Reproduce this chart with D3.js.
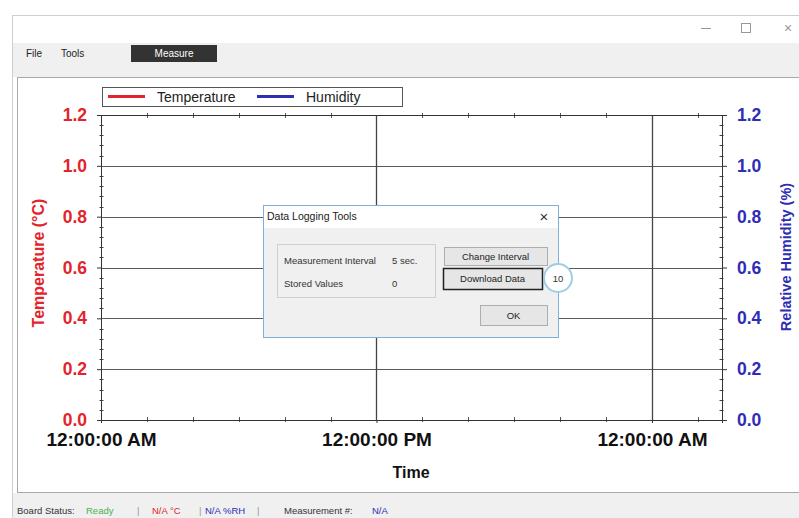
<!DOCTYPE html>
<html>
<head>
<meta charset="utf-8">
<script src="https://cdn.jsdelivr.net/npm/d3@7"></script>
<style>
  body { margin: 0; background: #fff; }
  svg text { font-family: "Liberation Sans", Arial, sans-serif; }
</style>
</head>
<body>
<div id="app"></div>
<script>
// logger window: empty temp / humidity chart with the logging dialog open

var W = 799, H = 518;

// series (nothing logged yet)
var seriesNames = ["Temperature", "Humidity"];
var seriesColors = ["#e3242b", "#2d2db5"];
var tempValues = [];
var humValues = [];

// axes
var yTicks = [0.0, 0.2, 0.4, 0.6, 0.8, 1.0, 1.2];
var yMinorStep = 0.04;
var xHours = [0, 27.05];          // visible time span in hours
var xMajorHours = [0, 12, 24];
var xMinorHours = [2, 4, 6, 8, 10, 14, 16, 18, 20, 22, 26];
var xTickLabels = ["12:00:00 AM", "12:00:00 PM", "12:00:00 AM"];

// ui texts
var menuItems = ["File", "Tools"];
var statusItems = [
  {t: "Board Status:", c: "#333", x: 17},
  {t: "Ready", c: "#4caf50", x: 86},
  {t: "|", c: "#999", x: 137},
  {t: "N/A °C", c: "#e3242b", x: 152},
  {t: "|", c: "#999", x: 199},
  {t: "N/A %RH", c: "#2d2db5", x: 205},
  {t: "|", c: "#999", x: 257},
  {t: "Measurement #:", c: "#333", x: 284},
  {t: "N/A", c: "#2d2db5", x: 372}
];

var margin = {top: 115, right: 77, bottom: 98, left: 101};
var plotW = W - margin.left - margin.right;
var plotH = H - margin.top - margin.bottom;

var t0 = new Date(2000, 0, 1, 0, 0, 0);
function hour(h) { return new Date(t0.getTime() + h * 3600 * 1000); }

var x = d3.scaleTime().domain(xHours.map(hour)).range([0, plotW]);
var y = d3.scaleLinear().domain([0, 1.2]).range([plotH, 0]);

var svg = d3.select("#app").append("svg")
    .attr("width", W)
    .attr("height", H);

// ---- window frame ----
svg.append("rect").attr("x", 0).attr("y", 0).attr("width", W).attr("height", H).attr("fill", "#fff");
svg.append("rect").attr("x", 12.5).attr("y", 15.5).attr("width", 800).attr("height", 520)
    .attr("fill", "#fff").attr("stroke", "#cfcfcf");
svg.append("rect").attr("x", 13).attr("y", 43).attr("width", W).attr("height", 34).attr("fill", "#f0f0f0");
svg.append("rect").attr("x", 13).attr("y", 493).attr("width", W).attr("height", 30).attr("fill", "#f0f0f0");

// title bar buttons
svg.append("line").attr("x1", 701).attr("x2", 711).attr("y1", 28.5).attr("y2", 28.5).attr("stroke", "#999");
svg.append("rect").attr("x", 741.5).attr("y", 23.5).attr("width", 9).attr("height", 9)
    .attr("fill", "none").attr("stroke", "#999");
svg.append("text").attr("x", 788).attr("y", 33).attr("text-anchor", "middle")
    .attr("font-size", 14).attr("fill", "#999").text("×");

// menu
svg.selectAll(".menu").data(menuItems).enter().append("text")
    .attr("class", "menu")
    .attr("x", function(d, i) { return i == 0 ? 26 : 61; })
    .attr("y", 57)
    .attr("font-size", 10)
    .attr("fill", "#222")
    .text(function(d) { return d; });

svg.append("rect").attr("x", 131).attr("y", 45).attr("width", 86).attr("height", 17).attr("fill", "#333");
svg.append("text").attr("x", 174).attr("y", 57).attr("text-anchor", "middle")
    .attr("font-size", 10).attr("fill", "#fff").text("Measure");

// chart panel
svg.append("rect").attr("x", 17.5).attr("y", 77.5).attr("width", 800).attr("height", 415)
    .attr("fill", "#fff").attr("stroke", "#a8a8a8");

// status bar
svg.selectAll(".status").data(statusItems).enter().append("text")
    .attr("class", "status")
    .attr("x", function(d) { return d.x; })
    .attr("y", 514)
    .attr("font-size", 9.5)
    .attr("fill", function(d) { return d.c; })
    .text(function(d) { return d.t; });

// ---- chart ----
var g = svg.append("g").attr("transform", "translate(" + margin.left + "," + margin.top + ")");

// gridlines
g.append("g").selectAll("line").data(yTicks.slice(1)).enter().append("line")
    .attr("x1", 0).attr("x2", plotW)
    .attr("y1", function(d) { return Math.round(y(d)) + 0.5; })
    .attr("y2", function(d) { return Math.round(y(d)) + 0.5; })
    .attr("stroke", "#5a5a5a");

g.append("g").selectAll("line").data(xMajorHours.slice(1)).enter().append("line")
    .attr("x1", function(d) { return Math.round(x(hour(d))) + 0.5; })
    .attr("x2", function(d) { return Math.round(x(hour(d))) + 0.5; })
    .attr("y1", 0).attr("y2", plotH)
    .attr("stroke", "#444").attr("stroke-width", 1.3);

// minor ticks
var yMinor = d3.range(0, 1.2001, yMinorStep).filter(function(v) {
  return Math.abs(v / 0.2 - Math.round(v / 0.2)) > 0.01;
});

function minorY(xpos) {
  g.append("g").selectAll("line").data(yMinor).enter().append("line")
      .attr("x1", xpos - 2).attr("x2", xpos + 2)
      .attr("y1", function(d) { return Math.round(y(d)) + 0.5; })
      .attr("y2", function(d) { return Math.round(y(d)) + 0.5; })
      .attr("stroke", "#444");
}
function minorX(ypos) {
  g.append("g").selectAll("line").data(xMinorHours).enter().append("line")
      .attr("x1", function(d) { return Math.round(x(hour(d))) + 0.5; })
      .attr("x2", function(d) { return Math.round(x(hour(d))) + 0.5; })
      .attr("y1", ypos - 2).attr("y2", ypos + 3)
      .attr("stroke", "#555");
}
minorY(0.5); minorY(plotW - 0.5);
minorX(0); minorX(plotH - 1);

// axes
var fmt = d3.format(".1f");

var leftAxis = g.append("g")
    .call(d3.axisLeft(y).tickValues(yTicks).tickFormat(fmt).tickSize(4).tickPadding(10));
leftAxis.selectAll("text")
    .attr("fill", seriesColors[0]).attr("font-size", 17.5).attr("font-weight", "bold")
    .attr("font-family", "Liberation Sans, Arial, sans-serif");

var rightAxis = g.append("g")
    .attr("transform", "translate(" + plotW + ",0)")
    .call(d3.axisRight(y).tickValues(yTicks).tickFormat(fmt).tickSize(5).tickPadding(10));
rightAxis.selectAll("text")
    .attr("fill", seriesColors[1]).attr("font-size", 17.5).attr("font-weight", "bold")
    .attr("font-family", "Liberation Sans, Arial, sans-serif");

var bottomAxis = g.append("g")
    .attr("transform", "translate(0," + plotH + ")")
    .call(d3.axisBottom(x).tickValues(xMajorHours.map(hour))
      .tickFormat(function(d, i) { return xTickLabels[i]; })
      .tickSize(3).tickPadding(10));
bottomAxis.selectAll("text")
    .attr("fill", "#111").attr("font-size", 19).attr("font-weight", "bold")
    .attr("font-family", "Liberation Sans, Arial, sans-serif");

var topAxis = g.append("g")
    .call(d3.axisTop(x).tickValues([]).tickSize(0));

[leftAxis, rightAxis, bottomAxis, topAxis].forEach(function(a) {
  a.select(".domain").attr("stroke", "#333");
  a.selectAll(".tick line").attr("stroke", "#333");
});

// series lines (empty until values are logged)
var line = d3.line()
    .x(function(d) { return x(hour(d.h)); })
    .y(function(d) { return y(d.v); });
[tempValues, humValues].forEach(function(vals, i) {
  g.append("path").datum(vals)
      .attr("fill", "none").attr("stroke", seriesColors[i]).attr("stroke-width", 2)
      .attr("d", line);
});

// axis titles
svg.append("text")
    .attr("transform", "translate(44,263) rotate(-90)")
    .attr("text-anchor", "middle")
    .attr("font-size", 16).attr("font-weight", "bold").attr("fill", seriesColors[0])
    .text("Temperature (°C)");

svg.append("text")
    .attr("transform", "translate(791,257) rotate(-90)")
    .attr("text-anchor", "middle")
    .attr("font-size", 14.5).attr("font-weight", "bold").attr("fill", seriesColors[1])
    .text("Relative Humidity (%)");

svg.append("text")
    .attr("x", 411).attr("y", 478)
    .attr("text-anchor", "middle")
    .attr("font-size", 16).attr("font-weight", "bold").attr("fill", "#111")
    .text("Time");

// legend
var lg = svg.append("g").attr("transform", "translate(102,87)");
lg.append("rect").attr("x", 0.5).attr("y", 0.5).attr("width", 300).attr("height", 19)
    .attr("fill", "#fff").attr("stroke", "#555");
var legendX = [6, 155];
seriesNames.forEach(function(name, i) {
  lg.append("line")
      .attr("x1", legendX[i]).attr("x2", legendX[i] + 37)
      .attr("y1", 9.5).attr("y2", 9.5)
      .attr("stroke", seriesColors[i]).attr("stroke-width", 3);
  lg.append("text")
      .attr("x", legendX[i] + 49).attr("y", 15)
      .attr("font-size", 14).attr("fill", "#222")
      .text(name);
});

// ---- Data Logging Tools dialog ----
var dlg = svg.append("g").attr("transform", "translate(263,205)");
dlg.append("rect").attr("x", 0.5).attr("y", 0.5).attr("width", 295).attr("height", 132)
    .attr("fill", "#f0f0f0").attr("stroke", "#7fb0d8");
dlg.append("rect").attr("x", 1).attr("y", 1).attr("width", 294).attr("height", 22).attr("fill", "#fff");
dlg.append("text").attr("x", 4).attr("y", 15).attr("font-size", 10.5).attr("fill", "#222")
    .text("Data Logging Tools");
dlg.append("text").attr("x", 281).attr("y", 17).attr("text-anchor", "middle")
    .attr("font-size", 15).attr("fill", "#333").text("×");

dlg.append("rect").attr("x", 14.5).attr("y", 39.5).attr("width", 158).attr("height", 53)
    .attr("fill", "#f0f0f0").attr("stroke", "#cfcfcf");
dlg.append("text").attr("x", 21).attr("y", 59).attr("font-size", 9.5).attr("fill", "#333").text("Measurement Interval");
dlg.append("text").attr("x", 129).attr("y", 59).attr("font-size", 9.5).attr("fill", "#333").text("5 sec.");
dlg.append("text").attr("x", 21).attr("y", 82).attr("font-size", 9.5).attr("fill", "#333").text("Stored Values");
dlg.append("text").attr("x", 129).attr("y", 82).attr("font-size", 9.5).attr("fill", "#333").text("0");

function button(bx, by, bw, bh, label, focused) {
  dlg.append("rect").attr("x", bx + 0.5).attr("y", by + 0.5).attr("width", bw).attr("height", bh)
      .attr("fill", "#e6e6e6").attr("stroke", focused ? "#222" : "#adadad")
      .attr("stroke-width", focused ? 1.5 : 1);
  dlg.append("text").attr("x", bx + bw / 2).attr("y", by + bh / 2 + 3.5)
      .attr("text-anchor", "middle").attr("font-size", 9.5).attr("fill", "#222").text(label);
}
button(181, 42, 103, 18, "Change Interval", false);
button(180, 63, 99, 21, "Download Data", true);
button(217, 100, 67, 20, "OK", false);

dlg.append("circle").attr("cx", 295).attr("cy", 73).attr("r", 14)
    .attr("fill", "#fff").attr("stroke", "#9fcde3").attr("stroke-width", 2);
dlg.append("text").attr("x", 295).attr("y", 76.5).attr("text-anchor", "middle")
    .attr("font-size", 9.5).attr("fill", "#333").text("10");
</script>
</body>
</html>
